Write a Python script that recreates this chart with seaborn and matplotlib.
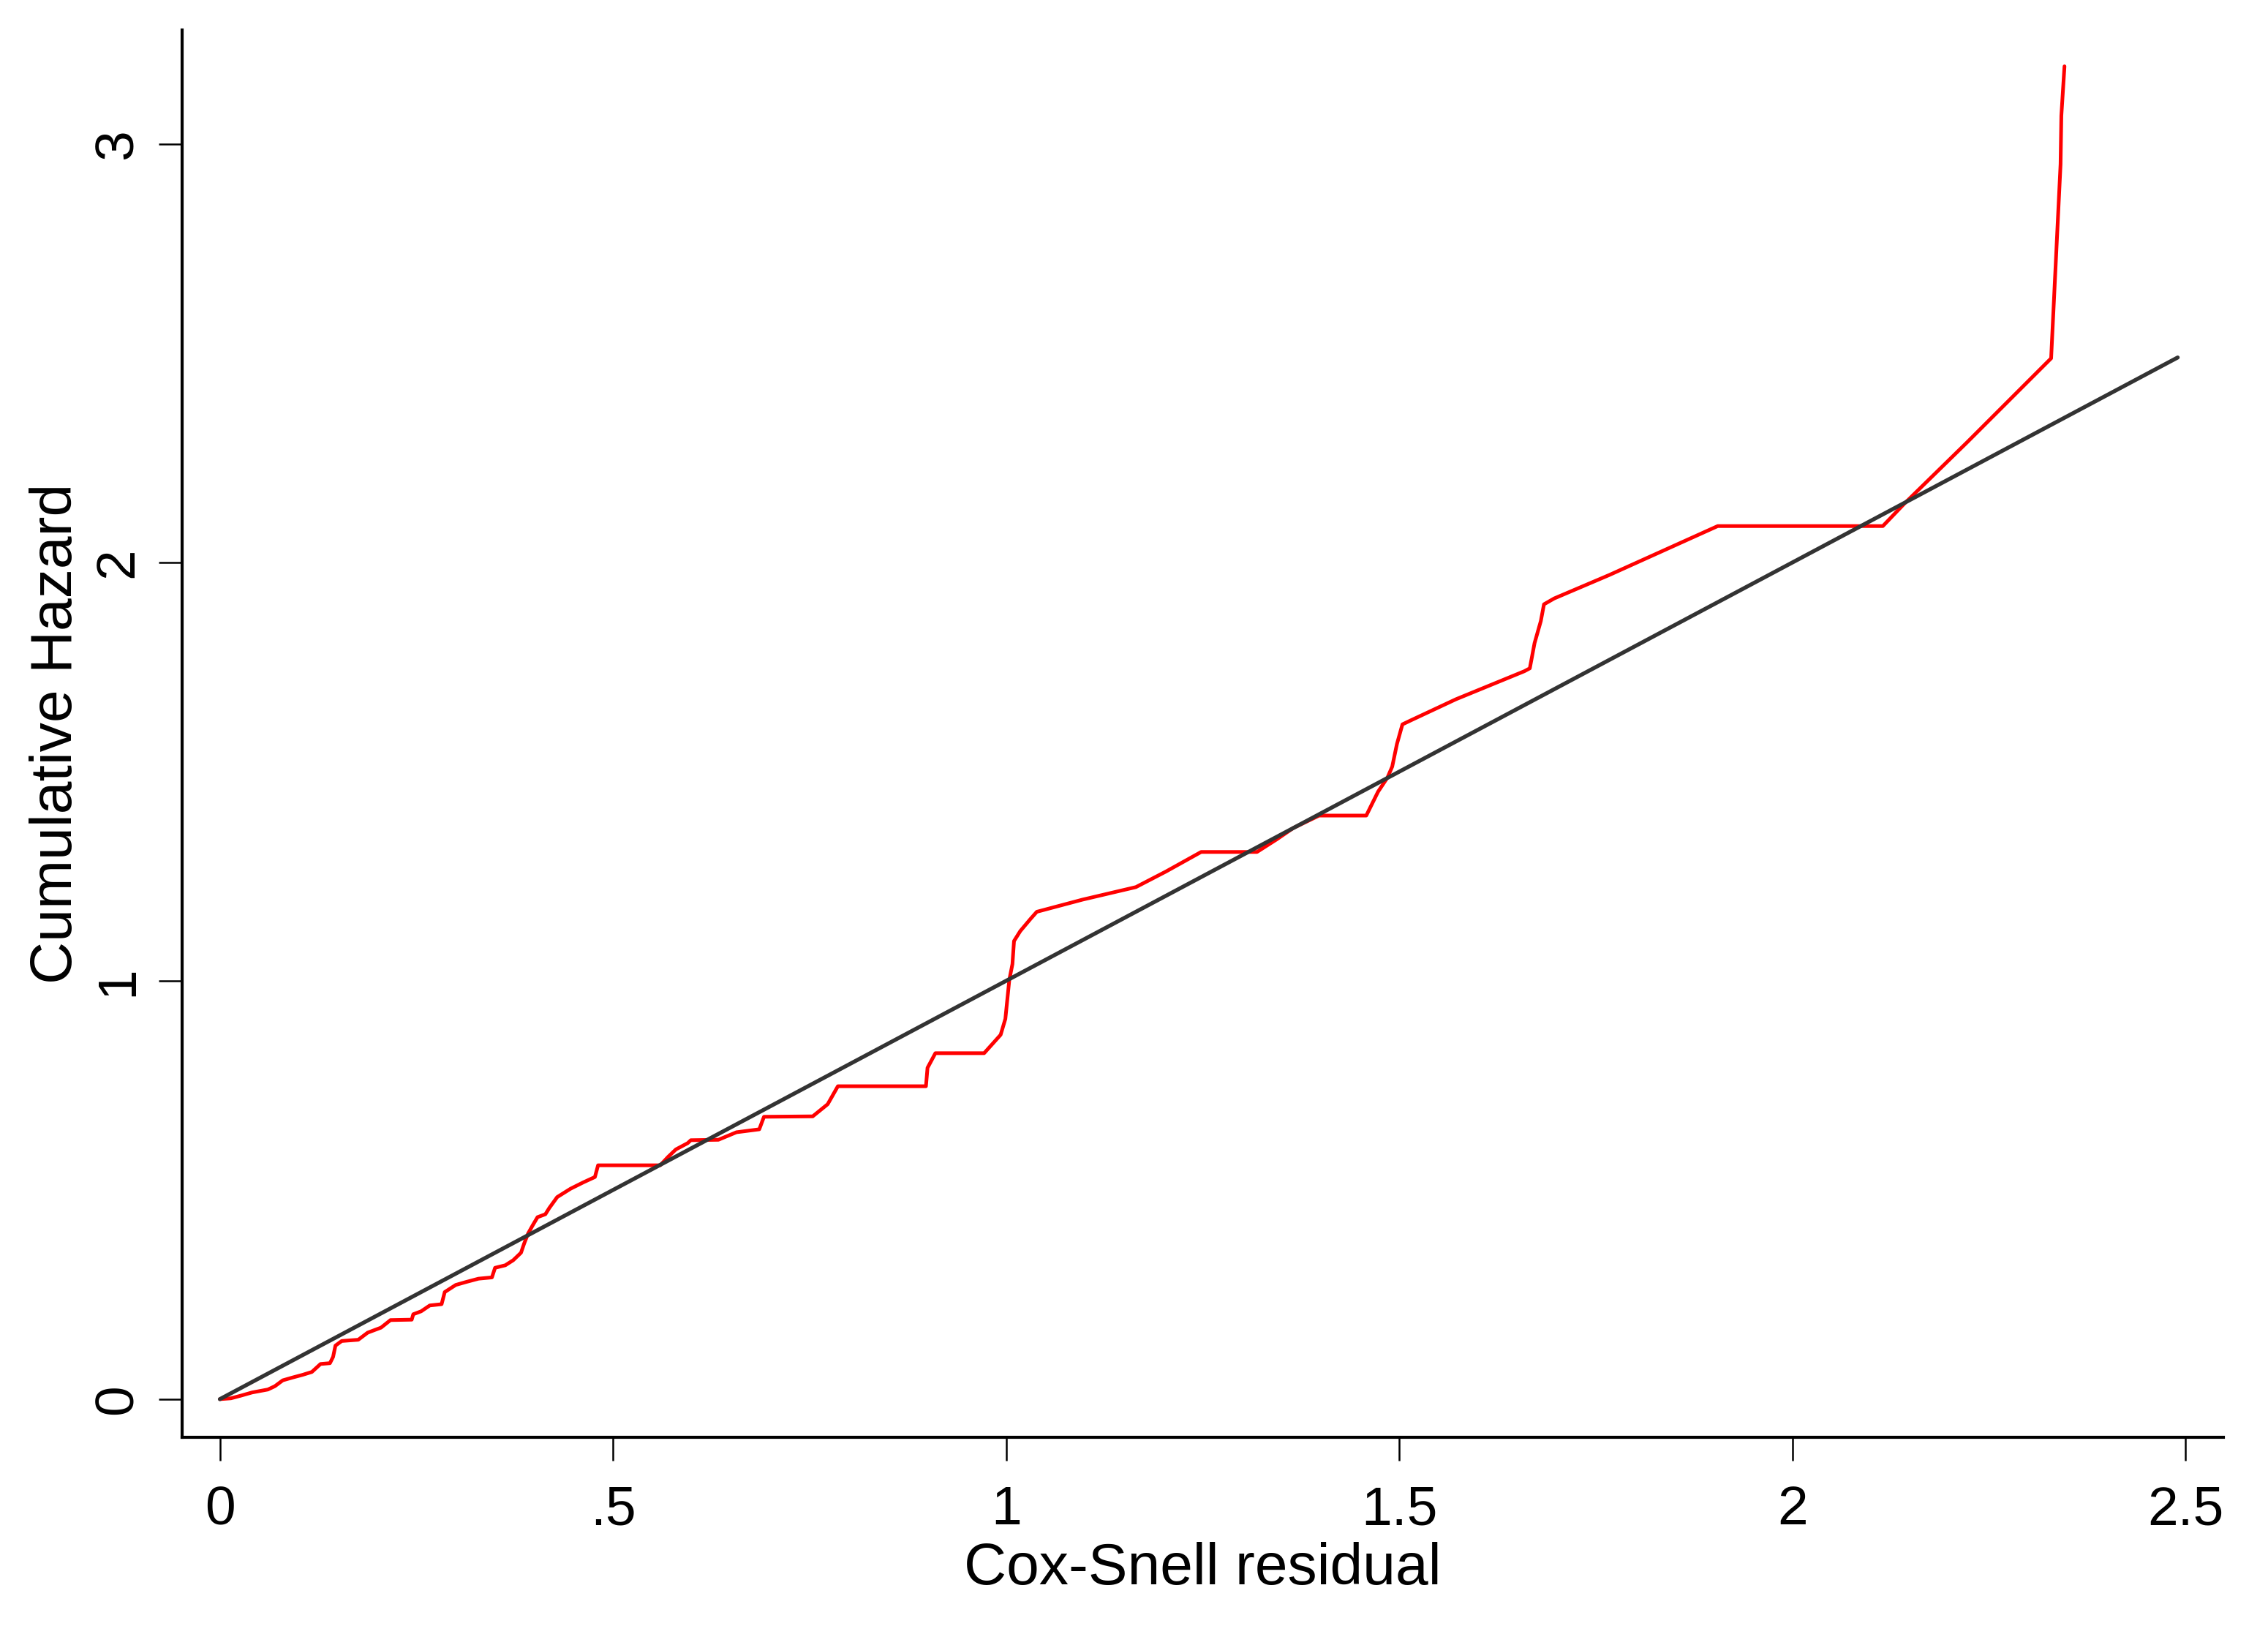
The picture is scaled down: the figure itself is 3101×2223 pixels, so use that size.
import seaborn as sns
import pandas as pd
import matplotlib.pyplot as plt

# Nelson-Aalen cumulative hazard of the Cox-Snell residuals
cs_resid = [0.0, 0.014, 0.026, 0.041, 0.061, 0.070, 0.080, 0.093, 0.105, 0.117,
            0.128, 0.140, 0.144, 0.147, 0.155, 0.176, 0.188, 0.205, 0.217, 0.244,
            0.246, 0.256, 0.267, 0.282, 0.286, 0.300, 0.313, 0.329, 0.346, 0.350,
            0.363, 0.373, 0.383, 0.387, 0.392, 0.398, 0.404, 0.414, 0.419, 0.429,
            0.446, 0.462, 0.477, 0.481, 0.560, 0.570, 0.580, 0.595, 0.599, 0.634,
            0.657, 0.686, 0.692, 0.754, 0.773, 0.786, 0.898, 0.900, 0.910, 0.972,
            0.993, 0.999, 1.004, 1.008, 1.010, 1.018, 1.031, 1.039, 1.097, 1.165,
            1.203, 1.248, 1.319, 1.344, 1.365, 1.398, 1.458, 1.473, 1.485, 1.491,
            1.497, 1.504, 1.514, 1.572, 1.659, 1.666, 1.672, 1.680, 1.684, 1.697,
            1.767, 1.905, 2.115, 2.142, 2.222, 2.329, 2.332, 2.335, 2.338, 2.341,
            2.342, 2.346]
cum_hazard = [0.0, 0.002, 0.008, 0.016, 0.023, 0.031, 0.045, 0.052, 0.058, 0.065,
              0.084, 0.086, 0.101, 0.128, 0.139, 0.142, 0.159, 0.171, 0.189, 0.190,
              0.203, 0.210, 0.224, 0.227, 0.256, 0.273, 0.280, 0.288, 0.291, 0.314,
              0.320, 0.332, 0.350, 0.372, 0.396, 0.416, 0.435, 0.442, 0.457, 0.483,
              0.503, 0.518, 0.531, 0.559, 0.559, 0.579, 0.597, 0.612, 0.619, 0.620,
              0.638, 0.645, 0.675, 0.676, 0.705, 0.748, 0.748, 0.792, 0.827, 0.827,
              0.871, 0.909, 1.002, 1.040, 1.095, 1.119, 1.148, 1.165, 1.194, 1.224,
              1.261, 1.308, 1.308, 1.338, 1.365, 1.395, 1.395, 1.452, 1.486, 1.512,
              1.566, 1.613, 1.622, 1.673, 1.740, 1.747, 1.807, 1.860, 1.900, 1.914,
              1.970, 2.087, 2.087, 2.140, 2.287, 2.488, 2.604, 2.720, 2.836, 2.952,
              3.068, 3.186]

# 45-degree reference line
ref_x = [0.0, 2.49]
ref_y = [0.0, 2.49]

x_ticks = [0, 0.5, 1, 1.5, 2, 2.5]
x_tick_labels = ['0', '.5', '1', '1.5', '2', '2.5']
y_ticks = [0, 1, 2, 3]
y_tick_labels = ['0', '1', '2', '3']

haz = pd.DataFrame({'resid': cs_resid, 'H': cum_hazard})
ref = pd.DataFrame({'resid': ref_x, 'H': ref_y})

sns.set_style('white')
plt.rcParams['font.family'] = ['Liberation Sans', 'DejaVu Sans']
plt.rcParams['text.color'] = 'black'
plt.rcParams['axes.labelcolor'] = 'black'
plt.rcParams['xtick.color'] = 'black'
plt.rcParams['ytick.color'] = 'black'

fig = plt.figure(figsize=(3101 / 300, 2223 / 300), dpi=300)
ax = fig.add_axes([0.0803, 0.1161, 0.900, 0.8655])

sns.lineplot(x='resid', y='H', data=haz, ax=ax, color='red', lw=1.2,
             sort=False, estimator=None)
sns.lineplot(x='resid', y='H', data=ref, ax=ax, color='#333333', lw=1.3,
             sort=False, estimator=None)

ax.set_xlim(-0.048, 2.548)
ax.set_ylim(-0.091, 3.273)
ax.set_xticks(x_ticks)
ax.set_xticklabels(x_tick_labels)
ax.set_yticks(y_ticks)
ax.set_yticklabels(y_tick_labels, rotation=90, va='center')

sns.despine(ax=ax)
for side in ['left', 'bottom']:
    ax.spines[side].set_linewidth(1.0)
    ax.spines[side].set_color('black')

ax.tick_params(axis='both', direction='out', length=7.7, width=0.6,
               labelsize=18, left=True, bottom=True)
ax.tick_params(axis='x', pad=8)
ax.tick_params(axis='y', pad=5)

ax.set_xlabel('Cox-Snell residual', fontsize=19.3, labelpad=2)
ax.set_ylabel('Cumulative Hazard', fontsize=19.3, labelpad=3)

fig.savefig('out.png', dpi=300, facecolor='white')
